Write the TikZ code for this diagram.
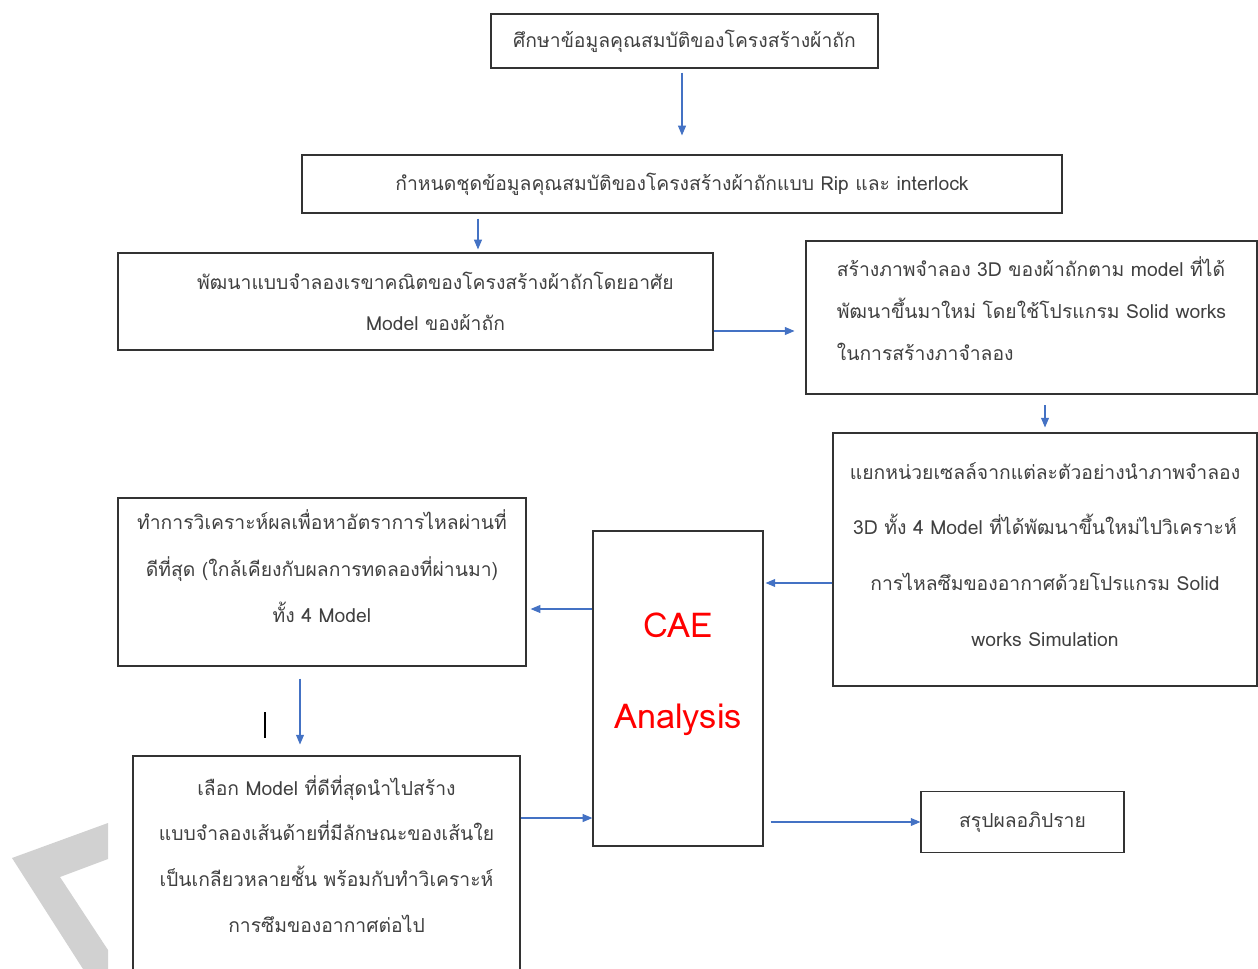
\documentclass[tikz,border=0pt]{standalone}
\usepackage{fontspec}
\setmainfont{Loma}[Script=Thai]
\usetikzlibrary{arrows.meta,calc}

\definecolor{flowblue}{HTML}{4472C4}
\definecolor{caered}{HTML}{FF0000}

\begin{document}
\begin{tikzpicture}[
    x=0.02cm, y=-0.02cm,
    % flowchart styles
    box/.style={rectangle, draw=black!80, line width=0.7pt, align=center, text=black!75, font=\fontsize{11}{24}\selectfont, inner sep=0pt},
    flow/.style={-{Triangle[length=5.5pt,width=4.5pt]}, draw=flowblue, line width=0.6pt}
  ]
  \useasboundingbox (0,0) rectangle (1258,969);

  % watermark corner and stray mark
  \fill[black!18] (12,858) -- (108,823) -- (108,859) -- (60,877) -- (108,950) -- (108,969) -- (83,969) -- cycle;
  \draw[black, line width=0.8pt] (265,712) -- (265,738);

  % Boxes
  \node[box, minimum width=7.74cm, minimum height=1.08cm] (study) at (684.5,41) {ศึกษาข้อมูลคุณสมบัติของโครงสร้างผ้าถัก};
  \node[box, minimum width=15.2cm, minimum height=1.16cm] (define) at (682,184) {กำหนดชุดข้อมูลคุณสมบัติของโครงสร้างผ้าถักแบบ Rip และ interlock};
  \node[box, minimum width=11.9cm, minimum height=1.94cm, font=\fontsize{11}{23}\selectfont] (mathmodel) at (415.5,301.5) {\hspace*{0.8cm}พัฒนาแบบจำลองเรขาคณิตของโครงสร้างผ้าถักโดยอาศัย\\\hspace*{0.8cm}Model ของผ้าถัก};
  \node[box, minimum width=9.02cm, minimum height=3.06cm, align=left, text depth=10pt] (solid) at (1031.5,317.5) {สร้างภาพจำลอง 3D ของผ้าถักตาม model ที่ได้\\พัฒนาขึ้นมาใหม่ โดยใช้โปรแกรม Solid works\\ในการสร้างภาจำลอง};
  \node[box, minimum width=8.48cm, minimum height=5.06cm, font=\fontsize{11}{31.7}\selectfont, text depth=6pt] (unitcell) at (1045,559.5) {แยกหน่วยเซลล์จากแต่ละตัวอย่างนำภาพจำลอง\\3D ทั้ง 4 Model ที่ได้พัฒนาขึ้นใหม่ไปวิเคราะห์\\การไหลซึมของอากาศด้วยโปรแกรม Solid\\works Simulation};
  \node[box, minimum width=3.4cm, minimum height=6.3cm, text=caered, font=\fontsize{19.5}{52}\selectfont, text depth=20pt] (cae) at (678,688.5) {CAE\\Analysis};
  \node[box, minimum width=8.16cm, minimum height=3.36cm, font=\fontsize{11}{26.6}\selectfont, text depth=18pt] (analyse) at (322,582) {ทำการวิเคราะห์ผลเพื่อหาอัตราการไหลผ่านที่\\ดีที่สุด (ใกล้เคียงกับผลการทดลองที่ผ่านมา)\\ทั้ง 4 Model};
  \node[box, minimum width=7.74cm, minimum height=4.6cm, font=\fontsize{11}{26}\selectfont, text depth=19.5pt] (select) at (326.5,871) {เลือก Model ที่ดีที่สุดนำไปสร้าง\\แบบจำลองเส้นด้ายที่มีลักษณะของเส้นใย\\เป็นเกลียวหลายชั้น พร้อมกับทำวิเคราะห์\\การซึมของอากาศต่อไป};
  \node[box, minimum width=4.06cm, minimum height=1.22cm] (conclude) at (1022.5,822) {สรุปผลอภิปราย};

  % Arrow end points
  \coordinate (mathin) at ([xshift=1.25cm]mathmodel.north);
  \coordinate (mathout) at ([yshift=-0.59cm]mathmodel.east);
  \coordinate (cellout) at ([yshift=-0.47cm]unitcell.west);
  \coordinate (caeout) at ([yshift=1.59cm]cae.west);
  \coordinate (selectin) at ([xshift=-0.53cm]select.north);
  \coordinate (selectout) at ([yshift=1.06cm]select.east);

  % Control flow
  \draw[flow, shorten <=2.3pt, shorten >=10.8pt] (study.south -| define.north) -- (define.north);
  \draw[flow, shorten <=2.8pt, shorten >=1.7pt] (define.south -| mathin) -- (mathin);
  \draw[flow, shorten >=6.2pt] (mathout) -- (mathout -| solid.west);
  \draw[flow, shorten <=6.2pt, shorten >=2.8pt] (solid.south -| unitcell.north) -- (unitcell.north);
  \draw[flow, shorten >=1.1pt] (cellout) -- (cellout -| cae.east);
  \draw[flow, shorten >=2.3pt] (caeout) -- (caeout -| analyse.east);
  \draw[flow, shorten <=6.8pt, shorten >=6.2pt] (analyse.south -| selectin) -- (selectin);
  \draw[flow] (selectout) -- (selectout -| cae.west);
  \draw[flow, shorten <=4pt] (conclude.west -| cae.east) -- (conclude.west);
\end{tikzpicture}
\end{document}
